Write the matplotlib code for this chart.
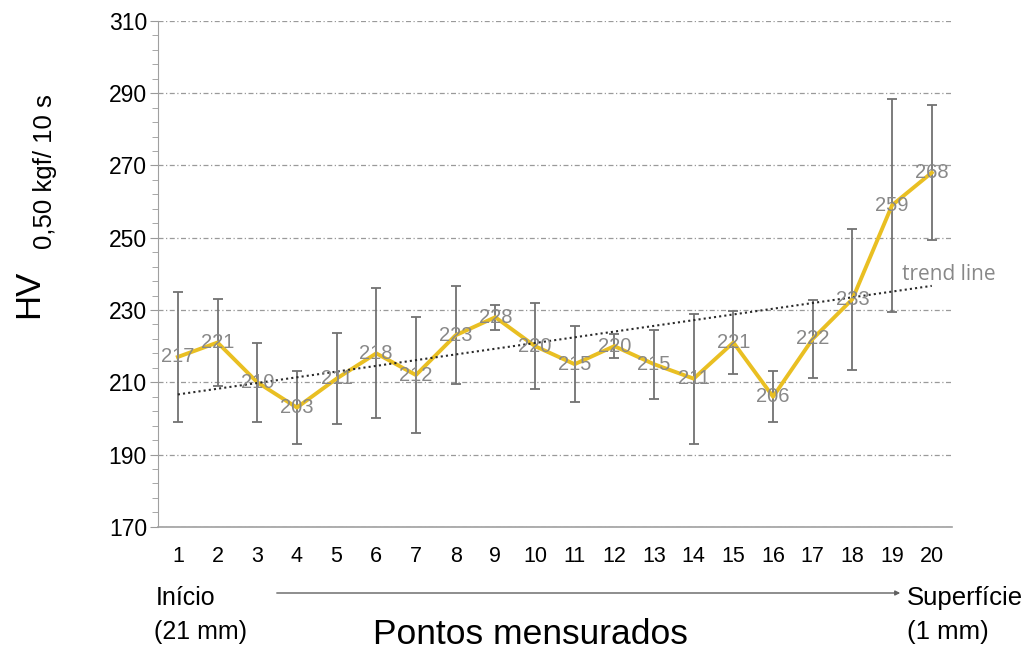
import numpy as np
import matplotlib
matplotlib.use("Agg")
import matplotlib.pyplot as plt

plt.rcParams['font.family'] = ['Liberation Sans', 'DejaVu Sans']

# hardness profile (HV 0,50 kgf / 10 s) per measured point
points = np.arange(1, 21)
hv = np.array([217, 221, 210, 203, 211, 218, 212, 223, 228, 220,
               215, 220, 215, 211, 221, 206, 222, 233, 259, 268])
hv_err = np.array([18, 12, 11, 10, 12.5, 18, 16, 13.5, 3.5, 12,
                   10.5, 3.3, 9.5, 18, 8.6, 7, 10.7, 19.5, 29.5, 18.6])
yticks = np.arange(170, 311, 20)

fig = plt.figure(figsize=(10.28, 6.52), dpi=100)
ax = fig.add_axes([0.1537, 0.192, 0.772, 0.776])

gray = '#888888'
ax.errorbar(points, hv, yerr=hv_err, fmt='none', ecolor='#727272',
            elinewidth=1.3, capsize=3.5, capthick=1.3, zorder=2)
ax.plot(points, hv, color='#E9BF22', lw=2.8, zorder=3)

# linear trend line
k, b = np.polyfit(points, hv, 1)
ax.plot(points[[0, -1]], k * points[[0, -1]] + b, color='#2a2a2a',
        lw=1.5, ls=(0, (1, 1.5)), zorder=4)
ax.text(19.24, 239.7, 'trend line', color=gray, fontsize=15,
        family=['Open Sans', 'DejaVu Sans'], ha='left', va='center')

for x, y in zip(points, hv):
    ax.text(x, y, str(y), color=gray, fontsize=14.5, ha='center', va='center', zorder=5)

ax.set_xlim(0.5, 20.5)
ax.set_ylim(170, 310)
ax.set_yticks(yticks)
ax.set_yticks(np.arange(170, 311, 4), minor=True)
ax.set_xticks(points)
ax.tick_params(axis='x', length=0, labelsize=15.5, pad=14)
ax.tick_params(axis='y', which='major', length=6, color='#999999', labelsize=16.5, pad=2)
ax.tick_params(axis='y', which='minor', length=4, color='#999999')

ax.grid(axis='y', which='major', color='#9a9a9a', lw=0.9, ls=(0, (4, 2, 1, 2)))
for s in ['top', 'right']:
    ax.spines[s].set_visible(False)
ax.spines['left'].set_color('#a0a0a0')
ax.spines['bottom'].set_color('#a0a0a0')
ax.spines['bottom'].set_linewidth(1.2)

# y label: HV with subscript
fig.text(29 / 1028, 1 - 294 / 652, 'HV', rotation=90, fontsize=25, ha='center', va='center')
fig.text(45 / 1028, 1 - 172 / 652, '0,50 kgf/ 10 s', rotation=90, fontsize=18.5,
         ha='center', va='center')

# bottom annotations
fig.text(156 / 1028, 1 - 598 / 652, 'Início', fontsize=18, ha='left', va='center')
fig.text(154 / 1028, 1 - 632 / 652, '(21 mm)', fontsize=18, ha='left', va='center')
fig.text(907 / 1028, 1 - 598 / 652, 'Superfície', fontsize=18.5, ha='left', va='center')
fig.text(907 / 1028, 1 - 632 / 652, '(1 mm)', fontsize=18.5, ha='left', va='center')
fig.text(530 / 1028, 1 - 635 / 652, 'Pontos mensurados', fontsize=25.5, ha='center', va='center')
ax.annotate('', xy=(903 / 1028, 1 - 593 / 652), xytext=(274 / 1028, 1 - 593 / 652),
            xycoords='figure fraction', textcoords='figure fraction',
            arrowprops=dict(arrowstyle='-|>', color='#606060', lw=1,
                            mutation_scale=7))

fig.savefig('out.png', dpi=100)
